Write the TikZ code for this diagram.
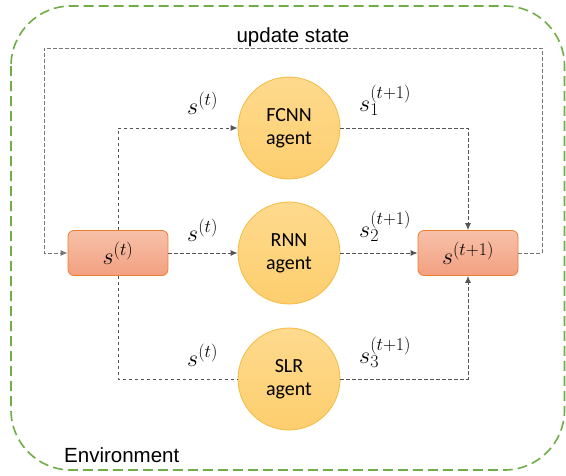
\RequirePackage{fix-cm}
\documentclass[tikz,border=0pt]{standalone}
\usepackage{fontspec}
\setmainfont{Liberation Sans}
\newfontfamily\agentfont{Carlito}
\usetikzlibrary{arrows.meta}
\DeclareMathSizes{24}{24}{18}{14}

\definecolor{envgreen}{HTML}{70AD47}
\definecolor{boxedge}{HTML}{ED7D31}
\definecolor{boxtop}{HTML}{F7C1A9}
\definecolor{boxbot}{HTML}{F2A080}
\definecolor{agentedge}{HTML}{F5BA42}
\definecolor{agenttop}{HTML}{FEDA8E}
\definecolor{agentbot}{HTML}{FDCE6E}
\definecolor{linegray}{HTML}{555555}
\definecolor{loopgray}{HTML}{777777}

\begin{document}
\begin{tikzpicture}[x=1pt,y=-1pt,
  env/.style={draw=envgreen,line width=1.6pt,dash pattern=on 10pt off 5pt,rounded corners=60pt},
  agent/.style={circle,draw=agentedge,line width=0.8pt,top color=agenttop,bottom color=agentbot,
    minimum size=102pt,inner sep=0pt,align=center,font=\agentfont\fontsize{20}{23}\selectfont},
  state/.style={rectangle,rounded corners=6pt,draw=boxedge,line width=0.8pt,top color=boxtop,bottom color=boxbot,
    minimum width=100pt,minimum height=45pt,inner sep=0pt,font=\fontsize{24}{28}\selectfont},
  flow/.style={draw=linegray,line width=0.9pt,dash pattern=on 3.5pt off 2.5pt},
  loopline/.style={draw=loopgray,line width=1pt,dash pattern=on 3.5pt off 2.5pt},
  tip/.style={-{Latex[length=7pt,width=6pt]}},
  lbl/.style={anchor=base west,inner sep=0pt,font=\fontsize{24}{28}\selectfont},
  sans/.style={inner sep=0pt,font=\fontsize{20.5}{24}\selectfont}]
\useasboundingbox (0,0) rectangle (566,475);

% environment boundary
\draw[env] (11,6) rectangle (564.5,470);
\node[sans,anchor=base west] (envlbl) at (64,462) {Environment};

% states and agents
\node[state] (st) at (118,253) {$s^{(t)}$};
\node[state] (st1) at (468,253) {$s^{(t+1)}$};
\node[agent] (fcnn) at (289,128) {FCNN\\agent};
\node[agent] (rnn) at (289,253) {RNN\\agent};
\node[agent] (slr) at (289,379) {SLR\\agent};

% state passed to each agent
\draw[flow,tip] (st.north) |- (fcnn.west);
\draw[flow,tip] (st.east) -- (rnn.west);
\draw[flow] (st.south) |- (slr.west);

% agent outputs merged into the next state
\draw[flow,tip] (fcnn.east) -| (st1.north);
\draw[flow,tip] (rnn.east) -- (st1.west);
\draw[flow,tip] (slr.east) -| (st1.south);

% feedback loop
\coordinate (tr) at (542,48);
\coordinate (tl) at (44,48);
\draw[loopline,tip] (st1.east) -| (tr) -- (tl) |- (st.west);
\node[sans,anchor=base] (upd) at (293,42) {update state};

% edge labels
\node[lbl] (la) at (187,114) {$s^{(t)}$};
\node[lbl] (lb) at (187,241) {$s^{(t)}$};
\node[lbl] (lc) at (187,366) {$s^{(t)}$};
\node[lbl] (ld) at (359,111) {$s_1^{(t+1)}$};
\node[lbl] (le) at (359,237) {$s_2^{(t+1)}$};
\node[lbl] (lf) at (359,363) {$s_3^{(t+1)}$};
\end{tikzpicture}
\end{document}
